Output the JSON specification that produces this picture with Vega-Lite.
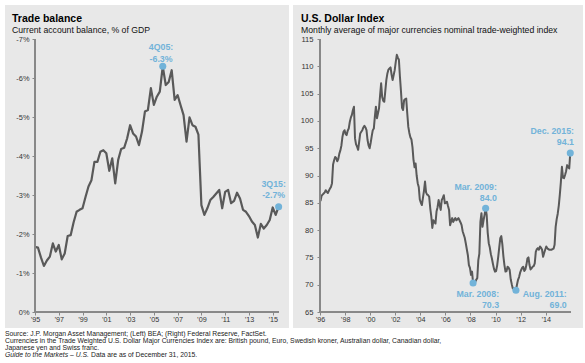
{
  "$schema": "https://vega.github.io/schema/vega-lite/v6.json",
  "padding": {"left": 5, "top": 5, "right": 0, "bottom": 0},
  "background": "#ffffff",
  "config": {"view": {"stroke": null}, "font": "Liberation Sans"},
  "datasets": {
    "tb": [
      {"t":1995.00,"v":-1.67},{"t":1995.25,"v":-1.65},{"t":1995.50,"v":-1.40},{"t":1995.75,"v":-1.18},
      {"t":1996.00,"v":-1.32},{"t":1996.25,"v":-1.42},{"t":1996.50,"v":-1.76},{"t":1996.75,"v":-1.55},
      {"t":1997.00,"v":-1.72},{"t":1997.25,"v":-1.35},{"t":1997.50,"v":-1.50},{"t":1997.75,"v":-1.95},
      {"t":1998.00,"v":-1.97},{"t":1998.25,"v":-2.30},{"t":1998.50,"v":-2.57},{"t":1998.75,"v":-2.62},
      {"t":1999.00,"v":-2.66},{"t":1999.25,"v":-2.95},{"t":1999.50,"v":-3.22},{"t":1999.75,"v":-3.38},
      {"t":2000.00,"v":-3.85},{"t":2000.25,"v":-3.85},{"t":2000.50,"v":-4.11},{"t":2000.75,"v":-4.15},
      {"t":2001.00,"v":-4.07},{"t":2001.25,"v":-3.62},{"t":2001.50,"v":-3.94},{"t":2001.75,"v":-3.30},
      {"t":2002.00,"v":-3.90},{"t":2002.25,"v":-4.18},{"t":2002.50,"v":-4.21},{"t":2002.75,"v":-4.45},
      {"t":2003.00,"v":-4.79},{"t":2003.25,"v":-4.58},{"t":2003.50,"v":-4.50},{"t":2003.75,"v":-4.28},
      {"t":2004.00,"v":-4.62},{"t":2004.25,"v":-5.14},{"t":2004.50,"v":-5.18},{"t":2004.75,"v":-5.74},
      {"t":2005.00,"v":-5.31},{"t":2005.25,"v":-5.52},{"t":2005.50,"v":-5.65},{"t":2005.75,"v":-6.30},
      {"t":2006.00,"v":-5.82},{"t":2006.25,"v":-5.90},{"t":2006.50,"v":-6.20},{"t":2006.75,"v":-5.44},
      {"t":2007.00,"v":-5.56},{"t":2007.25,"v":-5.30},{"t":2007.50,"v":-5.05},{"t":2007.75,"v":-4.37},
      {"t":2008.00,"v":-4.99},{"t":2008.25,"v":-4.79},{"t":2008.50,"v":-4.75},{"t":2008.75,"v":-4.55},
      {"t":2009.00,"v":-2.74},{"t":2009.25,"v":-2.49},{"t":2009.50,"v":-2.66},{"t":2009.75,"v":-2.87},
      {"t":2010.00,"v":-2.95},{"t":2010.25,"v":-3.04},{"t":2010.50,"v":-3.13},{"t":2010.75,"v":-2.66},
      {"t":2011.00,"v":-3.08},{"t":2011.25,"v":-3.13},{"t":2011.50,"v":-2.79},{"t":2011.75,"v":-2.85},
      {"t":2012.00,"v":-3.06},{"t":2012.25,"v":-2.91},{"t":2012.50,"v":-2.62},{"t":2012.75,"v":-2.57},
      {"t":2013.00,"v":-2.46},{"t":2013.25,"v":-2.32},{"t":2013.50,"v":-2.23},{"t":2013.75,"v":-1.91},
      {"t":2014.00,"v":-2.26},{"t":2014.25,"v":-2.14},{"t":2014.50,"v":-2.23},{"t":2014.75,"v":-2.36},
      {"t":2015.00,"v":-2.68},{"t":2015.25,"v":-2.49},{"t":2015.50,"v":-2.70}
    ],
    "tbAnn": [
      {"t":2005.75,"v":-6.30,"id":"a","lab":"4Q05:\n-6.3%"},
      {"t":2015.50,"v":-2.70,"id":"b","lab":"3Q15:\n-2.7%"}
    ],
    "usd": [
      {"t":1996.042,"v":85.3},{"t":1996.125,"v":86.3},{"t":1996.208,"v":86.5},{"t":1996.292,"v":86.7},{"t":1996.375,"v":86.9},{"t":1996.458,"v":87.3},{"t":1996.542,"v":87.0},{"t":1996.625,"v":86.8},{"t":1996.708,"v":87.2},{"t":1996.792,"v":87.6},{"t":1996.875,"v":87.9},{"t":1996.958,"v":88.6},
      {"t":1997.042,"v":92.0},{"t":1997.125,"v":92.8},{"t":1997.208,"v":93.4},{"t":1997.292,"v":93.2},{"t":1997.375,"v":92.6},{"t":1997.458,"v":93.0},{"t":1997.542,"v":94.0},{"t":1997.625,"v":94.6},{"t":1997.708,"v":95.5},{"t":1997.792,"v":97.1},{"t":1997.875,"v":98.0},{"t":1997.958,"v":98.3},
      {"t":1998.042,"v":97.6},{"t":1998.125,"v":97.4},{"t":1998.208,"v":98.2},{"t":1998.292,"v":98.6},{"t":1998.375,"v":99.8},{"t":1998.458,"v":100.6},{"t":1998.542,"v":101.1},{"t":1998.625,"v":102.0},{"t":1998.708,"v":102.6},{"t":1998.792,"v":96.8},{"t":1998.875,"v":95.7},{"t":1998.958,"v":95.3},
      {"t":1999.042,"v":94.7},{"t":1999.125,"v":96.2},{"t":1999.208,"v":97.7},{"t":1999.292,"v":98.0},{"t":1999.375,"v":98.3},{"t":1999.458,"v":98.8},{"t":1999.542,"v":99.1},{"t":1999.625,"v":98.8},{"t":1999.708,"v":98.3},{"t":1999.792,"v":96.5},{"t":1999.875,"v":95.5},{"t":1999.958,"v":95.0},
      {"t":2000.042,"v":96.0},{"t":2000.125,"v":97.2},{"t":2000.208,"v":98.3},{"t":2000.292,"v":98.6},{"t":2000.375,"v":100.8},{"t":2000.458,"v":102.6},{"t":2000.542,"v":100.5},{"t":2000.625,"v":101.4},{"t":2000.708,"v":102.3},{"t":2000.792,"v":104.7},{"t":2000.875,"v":106.9},{"t":2000.958,"v":104.4},
      {"t":2001.042,"v":103.7},{"t":2001.125,"v":103.5},{"t":2001.208,"v":105.5},{"t":2001.292,"v":107.5},{"t":2001.375,"v":108.7},{"t":2001.458,"v":109.4},{"t":2001.542,"v":109.6},{"t":2001.625,"v":109.8},{"t":2001.708,"v":108.5},{"t":2001.792,"v":107.5},{"t":2001.875,"v":108.4},{"t":2001.958,"v":109.3},
      {"t":2002.042,"v":110.8},{"t":2002.125,"v":112.1},{"t":2002.208,"v":111.6},{"t":2002.292,"v":111.2},{"t":2002.375,"v":108.1},{"t":2002.458,"v":105.4},{"t":2002.542,"v":102.4},{"t":2002.625,"v":102.0},{"t":2002.708,"v":103.8},{"t":2002.792,"v":104.0},{"t":2002.875,"v":104.1},{"t":2002.958,"v":101.4},
      {"t":2003.042,"v":98.9},{"t":2003.125,"v":97.8},{"t":2003.208,"v":97.0},{"t":2003.292,"v":96.6},{"t":2003.375,"v":95.2},{"t":2003.458,"v":92.8},{"t":2003.542,"v":91.5},{"t":2003.625,"v":92.2},{"t":2003.708,"v":90.0},{"t":2003.792,"v":88.6},{"t":2003.875,"v":87.9},{"t":2003.958,"v":85.6},
      {"t":2004.042,"v":85.0},{"t":2004.125,"v":84.6},{"t":2004.208,"v":85.9},{"t":2004.292,"v":87.2},{"t":2004.375,"v":88.9},{"t":2004.458,"v":86.9},{"t":2004.542,"v":86.5},{"t":2004.625,"v":86.4},{"t":2004.708,"v":86.1},{"t":2004.792,"v":84.0},{"t":2004.875,"v":82.5},{"t":2004.958,"v":80.4},
      {"t":2005.042,"v":81.8},{"t":2005.125,"v":81.5},{"t":2005.208,"v":81.2},{"t":2005.292,"v":83.4},{"t":2005.375,"v":84.2},{"t":2005.458,"v":85.5},{"t":2005.542,"v":84.6},{"t":2005.625,"v":83.7},{"t":2005.708,"v":85.5},{"t":2005.792,"v":85.9},{"t":2005.875,"v":86.4},{"t":2005.958,"v":84.9},
      {"t":2006.042,"v":85.0},{"t":2006.125,"v":85.2},{"t":2006.208,"v":84.4},{"t":2006.292,"v":83.7},{"t":2006.375,"v":80.9},{"t":2006.458,"v":81.6},{"t":2006.542,"v":82.2},{"t":2006.625,"v":81.5},{"t":2006.708,"v":81.9},{"t":2006.792,"v":82.2},{"t":2006.875,"v":81.8},{"t":2006.958,"v":82.0},
      {"t":2007.042,"v":82.2},{"t":2007.125,"v":81.8},{"t":2007.208,"v":81.4},{"t":2007.292,"v":80.9},{"t":2007.375,"v":79.8},{"t":2007.458,"v":79.2},{"t":2007.542,"v":78.6},{"t":2007.625,"v":77.6},{"t":2007.708,"v":76.5},{"t":2007.792,"v":75.4},{"t":2007.875,"v":73.6},{"t":2007.958,"v":73.1},
      {"t":2008.042,"v":71.8},{"t":2008.125,"v":72.4},{"t":2008.208,"v":70.3},{"t":2008.292,"v":70.4},{"t":2008.375,"v":70.5},{"t":2008.458,"v":70.9},{"t":2008.542,"v":71.2},{"t":2008.625,"v":74.5},{"t":2008.708,"v":75.7},{"t":2008.792,"v":81.5},{"t":2008.875,"v":83.1},{"t":2008.958,"v":80.6},
      {"t":2009.042,"v":81.8},{"t":2009.125,"v":82.8},{"t":2009.208,"v":84.0},{"t":2009.292,"v":82.8},{"t":2009.375,"v":79.5},{"t":2009.458,"v":77.6},{"t":2009.542,"v":76.8},{"t":2009.625,"v":75.6},{"t":2009.708,"v":74.8},{"t":2009.792,"v":73.8},{"t":2009.875,"v":72.9},{"t":2009.958,"v":72.4},
      {"t":2010.042,"v":72.5},{"t":2010.125,"v":73.5},{"t":2010.208,"v":75.0},{"t":2010.292,"v":76.8},{"t":2010.375,"v":78.5},{"t":2010.458,"v":78.9},{"t":2010.542,"v":77.4},{"t":2010.625,"v":75.2},{"t":2010.708,"v":73.6},{"t":2010.792,"v":72.4},{"t":2010.875,"v":72.5},{"t":2010.958,"v":73.3},
      {"t":2011.042,"v":73.1},{"t":2011.125,"v":72.7},{"t":2011.208,"v":71.0},{"t":2011.292,"v":70.1},{"t":2011.375,"v":69.3},{"t":2011.458,"v":69.3},{"t":2011.542,"v":69.2},{"t":2011.625,"v":69.0},{"t":2011.708,"v":70.0},{"t":2011.792,"v":70.9},{"t":2011.875,"v":71.4},{"t":2011.958,"v":72.2},
      {"t":2012.042,"v":72.7},{"t":2012.125,"v":73.1},{"t":2012.208,"v":73.3},{"t":2012.292,"v":72.5},{"t":2012.375,"v":72.8},{"t":2012.458,"v":73.6},{"t":2012.542,"v":74.8},{"t":2012.625,"v":75.0},{"t":2012.708,"v":73.6},{"t":2012.792,"v":72.8},{"t":2012.875,"v":73.0},{"t":2012.958,"v":73.3},
      {"t":2013.042,"v":73.4},{"t":2013.125,"v":73.9},{"t":2013.208,"v":76.0},{"t":2013.292,"v":76.5},{"t":2013.375,"v":76.7},{"t":2013.458,"v":76.4},{"t":2013.542,"v":77.0},{"t":2013.625,"v":76.8},{"t":2013.708,"v":76.4},{"t":2013.792,"v":75.1},{"t":2013.875,"v":75.8},{"t":2013.958,"v":76.4},
      {"t":2014.042,"v":77.0},{"t":2014.125,"v":76.7},{"t":2014.208,"v":76.5},{"t":2014.292,"v":76.4},{"t":2014.375,"v":76.4},{"t":2014.458,"v":76.4},{"t":2014.542,"v":76.5},{"t":2014.625,"v":76.6},{"t":2014.708,"v":77.3},{"t":2014.792,"v":80.6},{"t":2014.875,"v":82.0},{"t":2014.958,"v":83.0},
      {"t":2015.042,"v":84.5},{"t":2015.125,"v":86.5},{"t":2015.208,"v":88.8},{"t":2015.292,"v":91.6},{"t":2015.375,"v":89.6},{"t":2015.458,"v":89.5},{"t":2015.542,"v":90.1},{"t":2015.625,"v":90.8},{"t":2015.708,"v":91.9},{"t":2015.792,"v":91.5},{"t":2015.875,"v":91.3},{"t":2015.958,"v":94.1}
    ],
    "usdAnn": [
      {"t":2008.208,"v":70.3,"id":"a","lab":"Mar. 2008:\n70.3"},
      {"t":2009.208,"v":84.0,"id":"b","lab":"Mar. 2009:\n84.0"},
      {"t":2011.625,"v":69.0,"id":"c","lab":"Aug. 2011:\n69.0"},
      {"t":2015.958,"v":94.1,"id":"d","lab":"Dec. 2015:\n94.1"}
    ],
    "foot": [
      {"line":1,"seg":"a","txt":"Source: J.P. Morgan Asset Management; (Left) BEA; (Right) Federal Reserve, FactSet."},
      {"line":2,"seg":"a","txt":"Currencies in the Trade Weighted U.S. Dollar Major Currencies Index are: British pound, Euro, Swedish kroner, Australian dollar, Canadian dollar,"},
      {"line":3,"seg":"a","txt":"Japanese yen and Swiss franc."},
      {"line":4,"seg":"i","txt":"Guide to the Markets – U.S."},
      {"line":4,"seg":"b","txt":"Data are as of December 31, 2015."}
    ]
  },
  "vconcat": [
    {
      "hconcat": [
        {
          "width": 284,
          "height": 323,
          "view": {"fill": "#e8e8e8", "stroke": null},
          "title": {
            "text": "Trade balance",
            "subtitle": "Current account balance, % of GDP",
            "anchor": "start", "frame": "group", "offset": -30, "dx": 7,
            "font": "Liberation Sans", "fontSize": 10.5, "fontWeight": "bold", "color": "#000000",
            "subtitleFont": "Liberation Sans", "subtitleFontSize": 8.7, "subtitleColor": "#111111", "subtitlePadding": 2
          },
          "data": {"name": "tb"},
          "encoding": {
            "x": {"field": "t", "type": "quantitative",
              "scale": {"domain": [1992.476, 2016.371], "nice": false, "zero": false},
              "axis": {"title": null, "values": [1995,1997,1999,2001,2003,2005,2007,2009,2011,2013,2015],
                "labelExpr": "'’' + slice(format(datum.value, 'd'), 2)", "offset": -16, "domain": false, "grid": false, "zindex": 2,
                "ticks": true, "tickSize": 3, "tickColor": "#888888", "labelPadding": 0, "labelFontSize": 7.2, "labelColor": "#333333", "labelFont": "Liberation Sans"}},
            "y": {"field": "v", "type": "quantitative",
              "scale": {"domain": [-7.872, 0.41], "nice": false, "zero": false, "reverse": true},
              "axis": {"title": null, "values": [-7,-6,-5,-4,-3,-2,-1,0], "labelExpr": "datum.value + '%'", "zindex": 2,
                "offset": -30, "domain": false, "grid": false, "ticks": true, "tickSize": 3, "tickColor": "#888888", "labelPadding": 3,
                "labelFontSize": 7.4, "labelColor": "#333333", "labelFont": "Liberation Sans"}}
          },
          "layer": [
            {"mark": {"type": "line", "color": "#595959", "strokeWidth": 2.2, "strokeJoin": "round"}},
            {"mark": {"type": "rule", "color": "#888888", "strokeWidth": 1},
             "encoding": {"x": {"datum": 1995, "type": "quantitative"}, "y": {"datum": -7, "type": "quantitative"}, "y2": {"datum": 0}}},
            {"mark": {"type": "rule", "color": "#888888", "strokeWidth": 1},
             "encoding": {"x": {"datum": 1995, "type": "quantitative"}, "x2": {"datum": 2015.5}, "y": {"datum": 0, "type": "quantitative"}}},
            {"data": {"name": "tbAnn"}, "mark": {"type": "point", "filled": true, "color": "#72b3d9", "size": 50, "opacity": 1}},
            {"data": {"name": "tbAnn"}, "transform": [{"filter": "datum.id == 'a'"}],
             "mark": {"type": "text", "align": "center", "baseline": "middle", "dx": -1.7, "dy": -19, "lineBreak": "\n", "lineHeight": 11.6,
               "font": "Liberation Sans", "fontSize": 8.8, "fontWeight": "bold", "color": "#72b3d9"},
             "encoding": {"text": {"field": "lab"}}},
            {"data": {"name": "tbAnn"}, "transform": [{"filter": "datum.id == 'b'"}],
             "mark": {"type": "text", "align": "center", "baseline": "middle", "dx": -5, "dy": -23, "lineBreak": "\n", "lineHeight": 11,
               "font": "Liberation Sans", "fontSize": 8.8, "fontWeight": "bold", "color": "#72b3d9"},
             "encoding": {"text": {"field": "lab"}}}
          ]
        },
        {
          "width": 290,
          "height": 323,
          "view": {"fill": "#e8e8e8", "stroke": null},
          "title": {
            "text": "U.S. Dollar Index",
            "subtitle": "Monthly average of major currencies nominal trade-weighted index",
            "anchor": "start", "frame": "group", "offset": -30, "dx": 8,
            "font": "Liberation Sans", "fontSize": 10.5, "fontWeight": "bold", "color": "#000000",
            "subtitleFont": "Liberation Sans", "subtitleFontSize": 8.7, "subtitleColor": "#111111", "subtitlePadding": 2
          },
          "data": {"name": "usd"},
          "encoding": {
            "x": {"field": "t", "type": "quantitative",
              "scale": {"domain": [1993.847, 2016.973], "nice": false, "zero": false},
              "axis": {"title": null, "values": [1996,1998,2000,2002,2004,2006,2008,2010,2012,2014], "zindex": 2,
                "labelExpr": "'’' + slice(format(datum.value, 'd'), 2)", "offset": -16, "domain": false, "grid": false,
                "ticks": true, "tickSize": 3, "tickColor": "#888888", "labelPadding": 0, "labelFontSize": 7.2, "labelColor": "#333333", "labelFont": "Liberation Sans"}},
            "y": {"field": "v", "type": "quantitative",
              "scale": {"domain": [62.07, 121.23], "nice": false, "zero": false},
              "axis": {"title": null, "values": [65,70,75,80,85,90,95,100,105,110,115], "zindex": 2,
                "offset": -27, "domain": false, "grid": false, "ticks": true, "tickSize": 3, "tickColor": "#888888", "labelPadding": 4,
                "labelFontSize": 7.6, "labelColor": "#333333", "labelFont": "Liberation Sans"}}
          },
          "layer": [
            {"mark": {"type": "line", "color": "#595959", "strokeWidth": 2, "strokeJoin": "round"}},
            {"mark": {"type": "rule", "color": "#888888", "strokeWidth": 1},
             "encoding": {"x": {"datum": 1996, "type": "quantitative"}, "y": {"datum": 65, "type": "quantitative"}, "y2": {"datum": 115}}},
            {"mark": {"type": "rule", "color": "#888888", "strokeWidth": 1},
             "encoding": {"x": {"datum": 1996, "type": "quantitative"}, "x2": {"datum": 2015.958}, "y": {"datum": 65, "type": "quantitative"}}},
            {"data": {"name": "usdAnn"}, "mark": {"type": "point", "filled": true, "color": "#72b3d9", "size": 50, "opacity": 1}},
            {"data": {"name": "usdAnn"}, "transform": [{"filter": "datum.id == 'a'"}],
             "mark": {"type": "text", "align": "right", "baseline": "middle", "dx": 26, "dy": 11.4, "lineBreak": "\n", "lineHeight": 11,
               "font": "Liberation Sans", "fontSize": 8.8, "fontWeight": "bold", "color": "#72b3d9"},
             "encoding": {"text": {"field": "lab"}}},
            {"data": {"name": "usdAnn"}, "transform": [{"filter": "datum.id == 'b'"}],
             "mark": {"type": "text", "align": "right", "baseline": "middle", "dx": 11.3, "dy": -21.6, "lineBreak": "\n", "lineHeight": 11,
               "font": "Liberation Sans", "fontSize": 8.8, "fontWeight": "bold", "color": "#72b3d9"},
             "encoding": {"text": {"field": "lab"}}},
            {"data": {"name": "usdAnn"}, "transform": [{"filter": "datum.id == 'c'"}],
             "mark": {"type": "text", "align": "right", "baseline": "middle", "dx": 50.8, "dy": 4.3, "lineBreak": "\n", "lineHeight": 11,
               "font": "Liberation Sans", "fontSize": 8.8, "fontWeight": "bold", "color": "#72b3d9"},
             "encoding": {"text": {"field": "lab"}}},
            {"data": {"name": "usdAnn"}, "transform": [{"filter": "datum.id == 'd'"}],
             "mark": {"type": "text", "align": "right", "baseline": "middle", "dx": 3.7, "dy": -22, "lineBreak": "\n", "lineHeight": 11,
               "font": "Liberation Sans", "fontSize": 8.8, "fontWeight": "bold", "color": "#72b3d9"},
             "encoding": {"text": {"field": "lab"}}}
          ]
        }
      ],
      "spacing": 4
    },
    {
      "width": 578,
      "height": 29,
      "view": {"fill": null, "stroke": null},
      "data": {"name": "foot"},
      "encoding": {
        "x": {"datum": 0, "type": "quantitative", "scale": {"domain": [0, 1]}, "axis": null},
        "y": {"field": "line", "type": "quantitative", "scale": {"domain": [0.5, 4.5], "reverse": true, "nice": false, "zero": false}, "axis": null},
        "text": {"field": "txt"}
      },
      "layer": [
        {"transform": [{"filter": "datum.seg == 'a'"}],
         "mark": {"type": "text", "align": "left", "baseline": "middle", "font": "Liberation Sans", "fontSize": 6.8, "color": "#222222"}},
        {"transform": [{"filter": "datum.seg == 'i'"}],
         "mark": {"type": "text", "align": "left", "baseline": "middle", "font": "Liberation Sans", "fontSize": 6.8, "fontStyle": "italic", "color": "#222222"}},
        {"transform": [{"filter": "datum.seg == 'b'"}],
         "mark": {"type": "text", "align": "left", "baseline": "middle", "dx": 86, "font": "Liberation Sans", "fontSize": 6.8, "color": "#222222"}}
      ]
    }
  ],
  "spacing": 1.9
}
